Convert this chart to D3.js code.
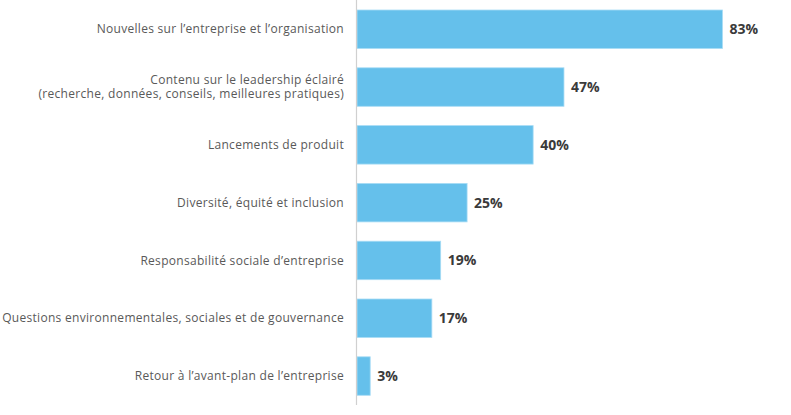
<!DOCTYPE html>
<html><head><meta charset="utf-8">
<script src="https://cdn.jsdelivr.net/npm/d3@7"></script>
<style>body{margin:0;background:#fff}</style>
</head><body>
<svg id="c" width="791" height="415"></svg>
<script>
const categories = [
  ["Nouvelles sur l’entreprise et l’organisation"],
  ["Contenu sur le leadership éclairé", "(recherche, données, conseils, meilleures pratiques)"],
  ["Lancements de produit"],
  ["Diversité, équité et inclusion"],
  ["Responsabilité sociale d’entreprise"],
  ["Questions environnementales, sociales et de gouvernance"],
  ["Retour à l’avant-plan de l’entreprise"]
];
const values = [83, 47, 40, 25, 19, 17, 3];
const valueLabels = ["83%", "47%", "40%", "25%", "19%", "17%", "3%"];

const svg = d3.select("#c");
const x0 = 357;
const x = d3.scaleLinear().domain([0, 83]).range([x0, 722.5]);
const y = d3.scaleBand().domain(d3.range(values.length)).range([10, 395.3]).paddingInner(0.334).paddingOuter(0);

const font = "'Open Sans', 'Noto Sans', sans-serif";

svg.selectAll("rect.bar").data(values).join("rect")
  .attr("class", "bar")
  .attr("x", x(0))
  .attr("y", (d, i) => y(i))
  .attr("width", d => x(d) - x(0))
  .attr("height", y.bandwidth())
  .attr("fill", "#65c0eb")
  .attr("stroke", "#a8dcf5").attr("stroke-width", 0.8);

svg.append("line").attr("x1", x0 - 0.5).attr("x2", x0 - 0.5).attr("y1", 0).attr("y2", 405)
  .attr("stroke", "#d0d0d0").attr("stroke-width", 1.2);

const lab = svg.selectAll("text.cat").data(categories).join("text")
  .attr("class", "cat")
  .attr("text-anchor", "end")
  .attr("font-family", font)
  .attr("font-size", 12)
  .attr("letter-spacing", 0.3)
  .attr("fill", "#595959");
lab.each(function(lines, i) {
  const cy = y(i) + y.bandwidth() / 2;
  const lh = 14;
  const start = cy - (lines.length - 1) * lh / 2;
  d3.select(this).selectAll("tspan").data(lines).join("tspan")
    .attr("x", 344)
    .attr("y", (l, j) => start + j * lh)
    .attr("dy", "0.35em")
    .text(l => l);
});

svg.selectAll("text.val").data(values).join("text")
  .attr("class", "val")
  .attr("x", d => x(d) + 7)
  .attr("y", (d, i) => y(i) + y.bandwidth() / 2)
  .attr("dy", "0.35em")
  .attr("font-family", font)
  .attr("font-size", 14)
  .attr("font-weight", "bold")
  .attr("fill", "#3a3a3a")
  .text((d, i) => valueLabels[i]);
</script>
</body></html>
